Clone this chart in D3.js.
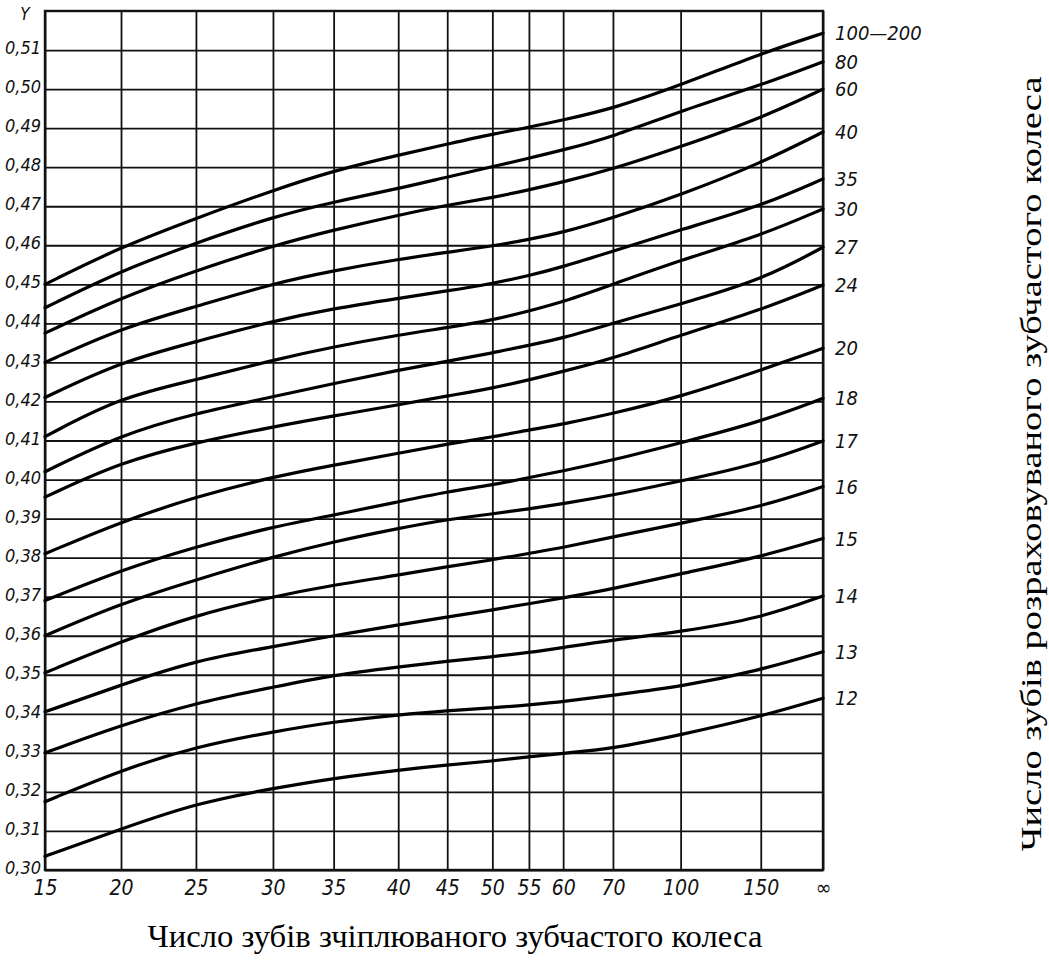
<!DOCTYPE html>
<html>
<head>
<meta charset="utf-8">
<script src="https://cdn.jsdelivr.net/npm/d3@7"></script>
<style>
  body { margin: 0; background: #fff; }
  svg { display: block; }
</style>
</head>
<body>
<svg id="chart" width="1049" height="964"></svg>
<script>
// --- data ---
const xLabels = ['15', '20', '25', '30', '35', '40', '45', '50', '55', '60', '70', '100', '150', '∞'];
const yTicks = [0.30, 0.31, 0.32, 0.33, 0.34, 0.35, 0.36, 0.37, 0.38, 0.39, 0.40,
                0.41, 0.42, 0.43, 0.44, 0.45, 0.46, 0.47, 0.48, 0.49, 0.50, 0.51];
const curveLabels = ['100—200', '80', '60', '40', '35', '30', '27', '24', '20', '18', '17', '16', '15', '14', '13', '12'];

const z100_200 = [0.450, 0.4596, 0.4669, 0.4741, 0.4791, 0.4831, 0.4859, 0.4885, 0.4902, 0.4921, 0.4950, 0.5010, 0.5091, 0.5143];
const z80      = [0.444, 0.4535, 0.4606, 0.4673, 0.4711, 0.4745, 0.4775, 0.4801, 0.4823, 0.4844, 0.4878, 0.4944, 0.5010, 0.5070];
const z60      = [0.4375, 0.4466, 0.4535, 0.4599, 0.4639, 0.4677, 0.4703, 0.4722, 0.4742, 0.4762, 0.4795, 0.4852, 0.4925, 0.5000];
const z40      = [0.430, 0.4388, 0.4443, 0.4502, 0.4535, 0.4564, 0.4582, 0.4598, 0.4615, 0.4633, 0.4670, 0.4729, 0.4810, 0.4890];
const z35      = [0.421, 0.4302, 0.4353, 0.4406, 0.4438, 0.4464, 0.4483, 0.4502, 0.4522, 0.4545, 0.4585, 0.4640, 0.4700, 0.4770];
const z30      = [0.411, 0.4212, 0.4255, 0.4306, 0.4340, 0.4370, 0.4389, 0.4408, 0.4432, 0.4455, 0.4500, 0.4562, 0.4625, 0.4693];
const z27      = [0.402, 0.4115, 0.4170, 0.4212, 0.4246, 0.4280, 0.4303, 0.4324, 0.4344, 0.4362, 0.4400, 0.4450, 0.4510, 0.4595];
const z24      = [0.3955, 0.4045, 0.4095, 0.4135, 0.4163, 0.4191, 0.4214, 0.4234, 0.4255, 0.4277, 0.4310, 0.4370, 0.4434, 0.4498];
const z20      = [0.381, 0.3892, 0.3956, 0.4007, 0.4037, 0.4067, 0.4091, 0.4109, 0.4127, 0.4142, 0.4169, 0.4212, 0.4280, 0.4336];
const z18      = [0.369, 0.3768, 0.3828, 0.3879, 0.3909, 0.3943, 0.3969, 0.3986, 0.4005, 0.4022, 0.4050, 0.4094, 0.4148, 0.4208];
const z17      = [0.360, 0.3683, 0.3743, 0.3802, 0.3841, 0.3875, 0.3898, 0.3912, 0.3925, 0.3938, 0.3960, 0.3996, 0.4041, 0.4099];
const z16      = [0.3505, 0.3585, 0.3653, 0.3700, 0.3730, 0.3755, 0.3777, 0.3794, 0.3811, 0.3826, 0.3853, 0.3888, 0.3930, 0.3982];
const z15      = [0.3405, 0.3474, 0.3537, 0.3572, 0.3600, 0.3628, 0.3648, 0.3666, 0.3682, 0.3697, 0.3720, 0.3759, 0.3802, 0.3849];
const z14      = [0.330, 0.3371, 0.3428, 0.3468, 0.3500, 0.3520, 0.3535, 0.3546, 0.3557, 0.3570, 0.3589, 0.3610, 0.3645, 0.3702];
const z13      = [0.3175, 0.3256, 0.3316, 0.3354, 0.3380, 0.3397, 0.3408, 0.3415, 0.3423, 0.3431, 0.3448, 0.3469, 0.3512, 0.3559];
const z12      = [0.3035, 0.3105, 0.3171, 0.3209, 0.3235, 0.3256, 0.3269, 0.3279, 0.3290, 0.3299, 0.3311, 0.3346, 0.3393, 0.3440];

const series = [z100_200, z80, z60, z40, z35, z30, z27, z24, z20, z18, z17, z16, z15, z14, z13, z12]
    .map((values, i) => ({ name: curveLabels[i], values }));

// --- layout ---
const margin = { top: 11, right: 226, bottom: 94, left: 45 };
const width = 1049 - margin.left - margin.right;
const height = 964 - margin.top - margin.bottom;
const tickFont = '"DejaVu Sans Condensed", "Liberation Sans Narrow", sans-serif';
const titleFont = '"Liberation Serif", "DejaVu Serif", serif';

// the printed x axis is not uniform: relative place of each tick along it
const xStops = [0, 0.0977, 0.194, 0.293, 0.371, 0.454, 0.517, 0.575, 0.622, 0.666, 0.730, 0.817, 0.920, 1];

const xScale = d3.scaleLinear()
    .domain(d3.range(xLabels.length))
    .range(xStops.map(f => f * width));

const yScale = d3.scaleLinear()
    .domain([0.30, 0.52])
    .range([height, 0]);

const svg = d3.select('#chart');
svg.append('rect').attr('width', 1049).attr('height', 964).attr('fill', '#fff');

const chart = svg.append('g')
    .attr('transform', `translate(${margin.left}, ${margin.top})`);

// grid + tick labels
const xAxis = chart.append('g')
    .attr('transform', `translate(0, ${height})`)
    .call(d3.axisBottom(xScale)
        .tickValues(d3.range(xLabels.length))
        .tickFormat(i => xLabels[i])
        .tickSize(-height)
        .tickPadding(10));

const yAxis = chart.append('g')
    .call(d3.axisLeft(yScale)
        .tickValues(yTicks)
        .tickFormat(d => d3.format('.2f')(d).replace('.', ','))
        .tickSize(-width)
        .tickPadding(4));

[xAxis, yAxis].forEach(ax => {
    ax.select('.domain').remove();
    ax.selectAll('.tick line')
        .attr('stroke', '#111')
        .attr('stroke-width', 1.8);
    ax.selectAll('.tick text')
        .attr('fill', '#111')
        .style('font-family', tickFont)
        .style('font-style', 'italic');
});
xAxis.selectAll('.tick text').style('font-size', '21px');
yAxis.selectAll('.tick text')
    .style('font-size', '18px')
    .attr('dy', '0.2em');

// frame
chart.append('rect')
    .attr('width', width)
    .attr('height', height)
    .attr('fill', 'none')
    .attr('stroke', '#111')
    .attr('stroke-width', 2.4);

// curves (hand-drawn originals are smooth, so a B-spline through the readings)
const line = d3.line()
    .x((d, i) => xScale(i))
    .y(d => yScale(d))
    .curve(d3.curveBasis);

chart.selectAll('.curve')
    .data(series)
    .enter().append('path')
    .attr('class', 'curve')
    .attr('fill', 'none')
    .attr('stroke', '#000')
    .attr('stroke-width', 3.2)
    .attr('stroke-linejoin', 'round')
    .attr('stroke-linecap', 'round')
    .attr('d', d => line(d.values));

// curve labels at the right end
chart.selectAll('.curve-label')
    .data(series)
    .enter().append('text')
    .attr('class', 'curve-label')
    .attr('x', width + 12)
    .attr('y', d => yScale(d.values[d.values.length - 1]))
    .attr('dy', '0.35em')
    .attr('fill', '#111')
    .style('font-family', tickFont)
    .style('font-style', 'italic')
    .style('font-size', '20px')
    .text(d => d.name);

// Y axis name
chart.append('text')
    .attr('x', -20)
    .attr('y', 9)
    .attr('text-anchor', 'middle')
    .attr('fill', '#111')
    .style('font-family', tickFont)
    .style('font-style', 'italic')
    .style('font-size', '17px')
    .text('Y');

// titles
svg.append('text')
    .attr('x', 455)
    .attr('y', 947)
    .attr('text-anchor', 'middle')
    .attr('fill', '#000')
    .attr('textLength', 615)
    .attr('lengthAdjust', 'spacingAndGlyphs')
    .style('font-family', titleFont)
    .style('font-size', '31px')
    .text('Число зубів зчіплюваного зубчастого колеса');

svg.append('text')
    .attr('transform', 'translate(1041, 464) rotate(-90)')
    .attr('text-anchor', 'middle')
    .attr('fill', '#000')
    .attr('textLength', 775)
    .attr('lengthAdjust', 'spacingAndGlyphs')
    .style('font-family', titleFont)
    .style('font-size', '29px')
    .text('Число зубів розраховуваного зубчастого колеса');
</script>
</body>
</html>
